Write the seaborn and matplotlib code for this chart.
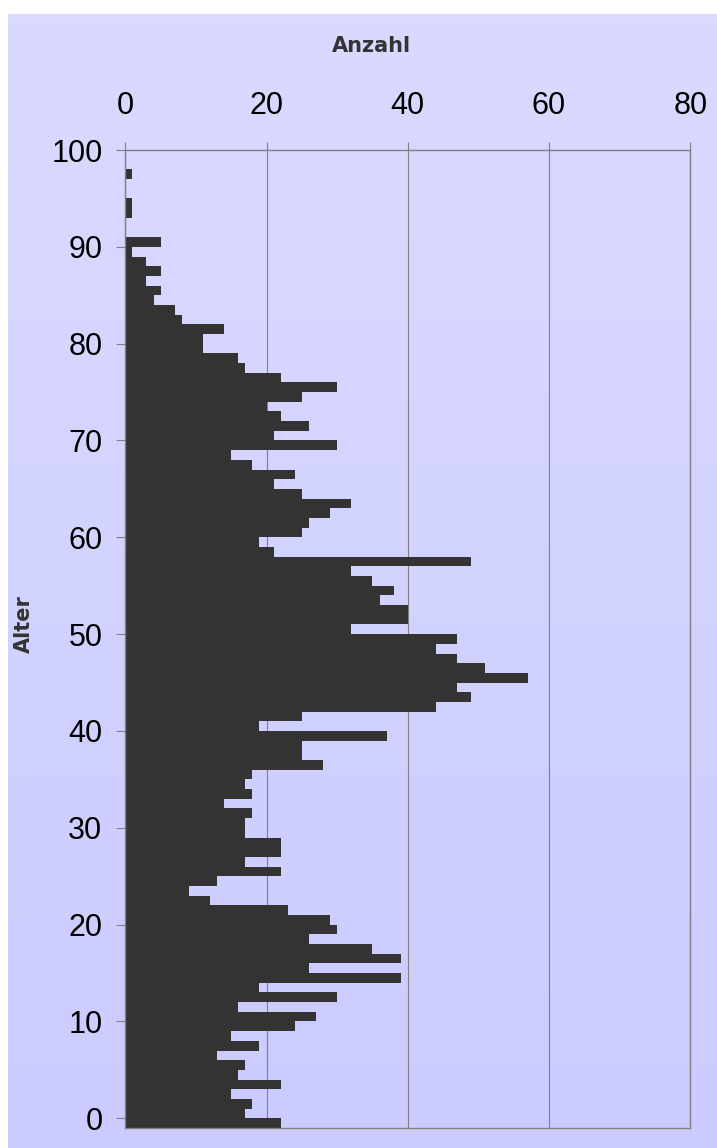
import numpy as np
import pandas as pd
import matplotlib
matplotlib.use("Agg")
import matplotlib.pyplot as plt
import seaborn as sns

# ---- data ----
ages = list(range(0, 101))
counts = [22, 17, 18, 15, 22, 16, 17, 13, 19, 15,
          24, 27, 16, 30, 19, 39, 26, 39, 35, 26,
          30, 29, 23, 12, 9, 13, 22, 17, 22, 22,
          17, 17, 18, 14, 18, 17, 18, 28, 25, 25,
          37, 19, 25, 44, 49, 47, 57, 51, 47, 44,
          47, 32, 40, 40, 36, 38, 35, 32, 49, 21,
          19, 25, 26, 29, 32, 25, 21, 24, 18, 15,
          30, 21, 26, 22, 20, 25, 30, 22, 17, 16,
          11, 11, 14, 8, 7, 4, 5, 3, 5, 3,
          1, 5, 0, 0, 1, 1, 0, 0, 1, 0,
          0]
x_ticks = [0, 20, 40, 60, 80]
y_tick_labels = [0, 10, 20, 30, 40, 50, 60, 70, 80, 90, 100]
x_label = "Anzahl"
y_label = "Alter"

df = pd.DataFrame({"Alter": ages, "Anzahl": counts})

sns.set_style("white")
plt.rcParams["font.family"] = ["Liberation Sans", "DejaVu Sans"]

W, H = 717, 1148
fig = plt.figure(figsize=(W / 100, H / 100), dpi=100, facecolor="white")

# gradient background panel
bg = fig.add_axes([8 / W, 0, (W - 8) / W, (H - 14) / H], zorder=0)
top = np.array([0xDA, 0xDA, 0xFF]) / 255
bot = np.array([0xCB, 0xCB, 0xFF]) / 255
t = np.linspace(0, 1, 256)[:, None]
grad = (top[None, :] * (1 - t) + bot[None, :] * t)[:, None, :]
bg.imshow(grad, aspect="auto", extent=[0, 1, 0, 1], origin="upper")
bg.set_axis_off()

left, right, ptop, pbot = 125.3, 690.3, 150.0, 1128.0
ax = fig.add_axes([left / W, (H - pbot) / H, (right - left) / W, (pbot - ptop) / H], zorder=1)
ax.set_facecolor("none")

sns.barplot(data=df, x="Anzahl", y="Alter", orient="y", native_scale=True,
            width=1, color="#333333", saturation=1, errorbar=None,
            linewidth=0, ax=ax)

ax.set_xlim(0, 80)
ax.set_ylim(-0.5, 100.5)
ax.xaxis.tick_top()
ax.set_xticks(x_ticks)
ax.set_xticklabels([str(v) for v in x_ticks])
ax.set_yticks(np.array(y_tick_labels) + 0.5)
ax.set_yticklabels([str(v) for v in y_tick_labels])
ax.set_xlabel("")
ax.set_ylabel("")

ax.grid(axis="x", color="#808080", linewidth=0.8)
ax.grid(axis="y", visible=False)
ax.set_axisbelow(True)
for s in ax.spines.values():
    s.set_visible(True)
    s.set_color("#808080")
    s.set_linewidth(1.0)

ax.tick_params(axis="x", which="both", top=True, bottom=False, direction="out",
               length=6, width=0.8, color="#808080", labelsize=22, pad=15,
               labelcolor="black")
ax.tick_params(axis="y", which="both", left=True, direction="out",
               length=6.5, width=0.8, color="#808080", labelsize=22, pad=10,
               labelcolor="black")

fig.text(371.5 / W, 1 - 51.7 / H, x_label, ha="center", va="baseline",
         fontsize=15, fontweight="bold", color="#333333", family="DejaVu Sans")
fig.text(30 / W, 1 - 624 / H, y_label, ha="center", va="baseline", rotation=90,
         rotation_mode="anchor", fontsize=15, fontweight="bold", color="#333333",
         family="DejaVu Sans")

fig.savefig("out.png", dpi=100, facecolor="white")
